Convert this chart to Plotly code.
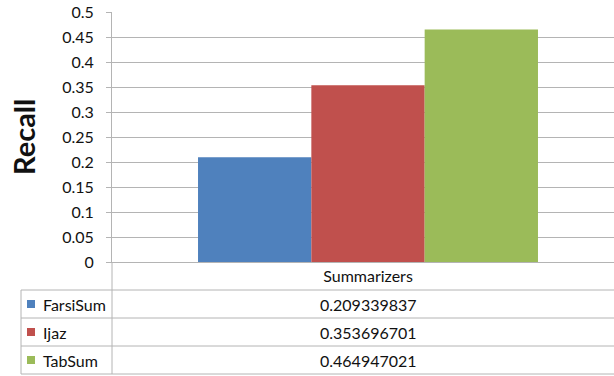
import plotly.graph_objects as go

categories = ["Summarizers"]
series_names = ["FarsiSum", "Ijaz", "TabSum"]
series_values = [0.209339837, 0.353696701, 0.464947021]
series_colors = ["#4F81BD", "#C0504D", "#9BBB59"]
y_ticks = [0, 0.05, 0.1, 0.15, 0.2, 0.25, 0.3, 0.35, 0.4, 0.45, 0.5]
y_title = "Recall"

FONT = "Lato, 'Open Sans', sans-serif"
GRID = "#B4B4B4"
TEXT = "#111111"

W, H = 614, 376
L, R, T, B = 112, 0, 12, 114
PW, PH = W - L - R, H - T - B


def px_x(px):
    return (px - L) / PW


def px_y(py):
    return (H - B - py) / PH


fig = go.Figure()
for name, val, col in zip(series_names, series_values, series_colors):
    fig.add_trace(go.Bar(x=categories, y=[val], name=name, marker=dict(color=col, line=dict(width=0))))

fig.update_layout(
    width=W, height=H,
    margin=dict(l=L, r=R, t=T, b=B),
    paper_bgcolor="white", plot_bgcolor="white",
    barmode="group", bargap=0.336, bargroupgap=0,
    showlegend=False,
    font=dict(family=FONT, size=16, color=TEXT),
)
fig.update_xaxes(
    type="category", range=[-0.5, 0.5 - 10 / 512],
    showline=True, linecolor=GRID, linewidth=1,
    ticks="", showgrid=False, zeroline=False,
    tickfont=dict(family=FONT, size=16, color=TEXT),
    ticklabelstandoff=0,
)
fig.update_yaxes(
    range=[0, 0.5], tickvals=y_ticks, ticktext=[f"{v:g}" for v in y_ticks],
    showgrid=True, gridcolor=GRID, gridwidth=1,
    showline=True, linecolor=GRID, linewidth=1,
    ticks="outside", ticklen=5, tickcolor=GRID,
    zeroline=False,
    tickfont=dict(family=FONT, size=16, color=TEXT),
    ticklabelstandoff=9,
)

# Y-axis title
fig.add_annotation(
    text=f"<b>{y_title}</b>", textangle=-90,
    xref="paper", yref="paper", x=px_x(23), y=0.5,
    xanchor="center", yanchor="middle", showarrow=False,
    font=dict(family=FONT, size=29, color=TEXT),
)

# Data table lines
line_style = dict(color=GRID, width=1)
row_lines = [290, 318, 346, 374]
for ry in row_lines:
    fig.add_shape(type="line", xref="paper", yref="paper",
                  x0=px_x(21), x1=1.02, y0=px_y(ry), y1=px_y(ry), line=line_style)
fig.add_shape(type="line", xref="paper", yref="paper",
              x0=px_x(21), x1=px_x(21), y0=px_y(290), y1=px_y(374), line=line_style)
fig.add_shape(type="line", xref="paper", yref="paper",
              x0=0, x1=0, y0=0, y1=px_y(374), line=line_style)

# Data table rows: legend keys, names, values
row_centers = [304, 332, 360]
for name, val, col, cy in zip(series_names, series_values, series_colors, row_centers):
    fig.add_shape(type="rect", xref="paper", yref="paper",
                  x0=px_x(27), x1=px_x(35), y0=px_y(cy + 4), y1=px_y(cy - 4),
                  fillcolor=col, line=dict(width=0))
    fig.add_annotation(text=name, xref="paper", yref="paper",
                       x=px_x(41), y=px_y(cy), xanchor="left", yanchor="middle",
                       showarrow=False, font=dict(family=FONT, size=16, color=TEXT))
    fig.add_annotation(text=f"{val:.9f}", xref="x", yref="paper",
                       x=categories[0], y=px_y(cy), xanchor="center", yanchor="middle",
                       showarrow=False, font=dict(family=FONT, size=16, color=TEXT))

fig.write_html("out.html")
